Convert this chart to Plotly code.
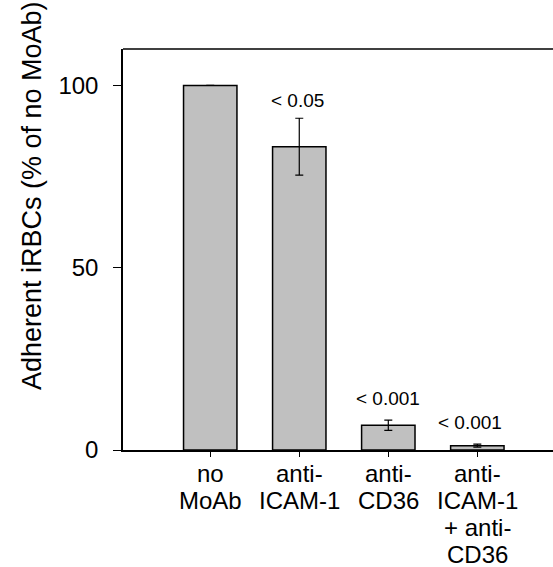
import plotly.graph_objects as go

categories = ["no<br>MoAb", "anti-<br>ICAM-1", "anti-<br>CD36", "anti-<br>ICAM-1<br>+ anti-<br>CD36"]
values = [100, 83.2, 6.8, 1.2]
errors = [0, 7.8, 1.4, 0.4]
p_labels = ["", "< 0.05", "< 0.001", "< 0.001"]
p_label_y = [None, 95.9, 14.2, 7.6]
p_label_xshift = [0, -2, 0, -7]

FONT = "Liberation Sans, Arial, sans-serif"

fig = go.Figure()
fig.add_trace(go.Bar(
    x=categories, y=values,
    width=0.6,
    marker=dict(color="#c0c0c0", line=dict(color="black", width=1.5)),
    error_y=dict(type="data", array=errors, visible=True, color="black",
                 thickness=1.2, width=4),
))

for c, lab, yy, xs in zip(categories, p_labels, p_label_y, p_label_xshift):
    if lab:
        fig.add_annotation(x=c, y=yy, text=lab, showarrow=False, xshift=xs,
                           font=dict(family=FONT, size=19, color="black"))

# category labels, one annotation per line to mimic the tighter line spacing
for c in categories:
    for i, line in enumerate(c.split("<br>")):
        fig.add_annotation(x=c, y=0, yref="y", text=line, showarrow=False,
                           yanchor="middle", yshift=-(23 + 27 * i),
                           font=dict(family=FONT, size=24, color="black"))

fig.add_annotation(text="Adherent iRBCs (% of no MoAb)", textangle=-90,
                   xref="paper", yref="paper", x=-0.21, y=0.635,
                   xanchor="center", yanchor="middle", showarrow=False,
                   font=dict(family=FONT, size=27, color="black"))

fig.add_shape(type="line", xref="paper", yref="paper", x0=0, x1=1, y0=1, y1=1,
              line=dict(color="black", width=1.5))

fig.update_layout(
    width=553, height=567,
    margin=dict(l=123, r=0, t=49, b=117, autoexpand=False),
    plot_bgcolor="white", paper_bgcolor="white",
    showlegend=False,
    xaxis=dict(type="category", categoryarray=categories, range=[-0.98, 3.85],
               automargin=False, showticklabels=False,
               showline=True, linecolor="black", linewidth=1.5,
               ticks="outside", ticklen=5, tickcolor="black", tickwidth=1,
               showgrid=False, zeroline=False),
    yaxis=dict(range=[0, 110], tickvals=[0, 50, 100], automargin=False,
               showline=True, linecolor="black", linewidth=1.5,
               ticks="outside", ticklen=8, tickcolor="black", tickwidth=1,
               ticklabelstandoff=10,
               showgrid=False, zeroline=False,
               tickfont=dict(family=FONT, size=24, color="black")),
)

fig.write_html("out.html")
